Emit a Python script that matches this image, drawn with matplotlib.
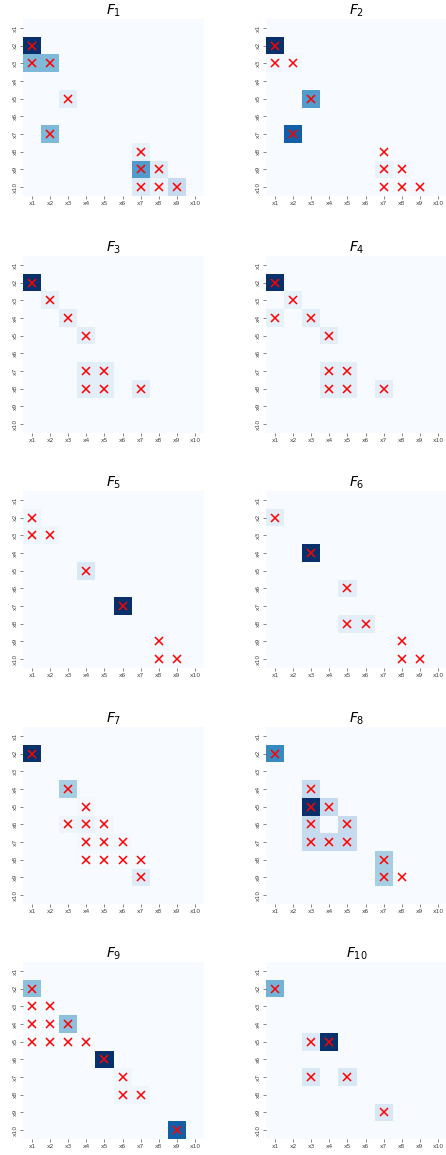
import numpy as np
import matplotlib
matplotlib.use("Agg")
import matplotlib.pyplot as plt

labels = [f"x{i}" for i in range(1, 11)]
titles = [r"$F_{%d}$" % i for i in range(1, 11)]

# (row, col, value) with 1-based variable indices; row = effect, col = cause
F1_vals = [(2, 1, 1.0), (3, 1, 0.45), (3, 2, 0.45), (5, 3, 0.1), (7, 2, 0.45),
           (8, 7, 0.08), (9, 7, 0.58), (9, 8, 0.13), (10, 7, 0.14), (10, 8, 0.06), (10, 9, 0.25)]
F1_marks = [(2, 1), (3, 1), (3, 2), (5, 3), (7, 2), (8, 7), (9, 7), (9, 8), (10, 7), (10, 8), (10, 9)]

F2_vals = [(2, 1, 1.0), (3, 1, 0.02), (3, 2, 0.02), (5, 3, 0.58), (7, 2, 0.82),
           (9, 7, 0.07), (9, 8, 0.02), (10, 9, 0.02)]
F2_marks = [(2, 1), (3, 1), (3, 2), (5, 3), (7, 2), (8, 7), (9, 7), (9, 8), (10, 7), (10, 8), (10, 9)]

F3_vals = [(2, 1, 1.0), (3, 2, 0.08), (4, 3, 0.1), (5, 4, 0.1), (7, 4, 0.1), (7, 5, 0.1),
           (8, 4, 0.1), (8, 5, 0.1), (8, 7, 0.1)]
F3_marks = [(2, 1), (3, 2), (4, 3), (5, 4), (7, 4), (7, 5), (8, 4), (8, 5), (8, 7)]

F4_vals = [(2, 1, 1.0), (3, 2, 0.08), (4, 1, 0.08), (4, 3, 0.1), (5, 4, 0.1), (7, 4, 0.1),
           (7, 5, 0.1), (8, 4, 0.1), (8, 5, 0.1), (8, 7, 0.1)]
F4_marks = [(2, 1), (3, 2), (4, 1), (4, 3), (5, 4), (7, 4), (7, 5), (8, 4), (8, 5), (8, 7)]

F5_vals = [(2, 1, 0.05), (3, 1, 0.04), (3, 2, 0.04), (5, 4, 0.15), (7, 6, 1.0),
           (9, 8, 0.02), (10, 8, 0.01), (10, 9, 0.01)]
F5_marks = [(2, 1), (3, 1), (3, 2), (5, 4), (7, 6), (9, 8), (10, 8), (10, 9)]

F6_vals = [(2, 1, 0.1), (4, 3, 1.0), (6, 5, 0.1), (8, 5, 0.1), (8, 6, 0.1),
           (9, 8, 0.02), (10, 8, 0.01), (10, 9, 0.02)]
F6_marks = [(2, 1), (4, 3), (6, 5), (8, 5), (8, 6), (9, 8), (10, 8), (10, 9)]

F7_vals = [(2, 1, 1.0), (4, 3, 0.35), (5, 4, 0.02), (6, 3, 0.05), (6, 4, 0.07), (6, 5, 0.03),
           (7, 4, 0.02), (7, 5, 0.02), (7, 6, 0.02), (8, 4, 0.01), (8, 5, 0.01), (8, 6, 0.01),
           (8, 7, 0.01), (9, 7, 0.12)]
F7_marks = [(2, 1), (4, 3), (5, 4), (6, 3), (6, 4), (6, 5), (7, 4), (7, 5), (7, 6),
            (8, 4), (8, 5), (8, 6), (8, 7), (9, 7)]

F8_vals = [(2, 1, 0.66), (4, 3, 0.25), (5, 3, 1.0), (5, 4, 0.25), (6, 3, 0.25), (6, 5, 0.25),
           (7, 3, 0.25), (7, 4, 0.25), (7, 5, 0.25), (8, 7, 0.35), (9, 7, 0.35)]
F8_marks = [(2, 1), (4, 3), (5, 3), (5, 4), (6, 3), (6, 5), (7, 3), (7, 4), (7, 5),
            (8, 7), (9, 7), (9, 8)]

F9_vals = [(2, 1, 0.42), (4, 3, 0.42), (6, 5, 1.0), (7, 6, 0.04), (8, 6, 0.04), (8, 7, 0.04),
           (10, 9, 0.82)]
F9_marks = [(2, 1), (3, 1), (3, 2), (4, 1), (4, 2), (4, 3), (5, 1), (5, 2), (5, 3), (5, 4),
            (6, 5), (7, 6), (8, 6), (8, 7), (10, 9)]

F10_vals = [(2, 1, 0.48), (5, 3, 0.13), (5, 4, 1.0), (7, 3, 0.15), (7, 5, 0.15), (9, 7, 0.15)]
F10_marks = [(2, 1), (5, 3), (5, 4), (7, 3), (7, 5), (9, 7)]

panels = [(F1_vals, F1_marks), (F2_vals, F2_marks), (F3_vals, F3_marks), (F4_vals, F4_marks),
          (F5_vals, F5_marks), (F6_vals, F6_marks), (F7_vals, F7_marks), (F8_vals, F8_marks),
          (F9_vals, F9_marks), (F10_vals, F10_marks)]

W, H = 446, 1155
fig = plt.figure(figsize=(W / 100, H / 100), dpi=100)

row_tops = [19, 256, 491, 727, 962]
col_lefts = [23, 266]
aw, ah = 181, 177

n = len(labels)
for k, (vals, marks) in enumerate(panels):
    r, c = divmod(k, 2)
    left = col_lefts[c] / W
    bottom = 1 - (row_tops[r] + ah) / H
    ax = fig.add_axes([left, bottom, aw / W, ah / H])
    M = np.zeros((n, n))
    for (i, j, v) in vals:
        M[i - 1, j - 1] = v
    ax.pcolormesh(np.arange(n + 1), np.arange(n + 1), M, cmap="Blues", vmin=0, vmax=1,
                  edgecolor="none")
    mx = [j - 0.5 for (i, j) in marks]
    my = [i - 0.5 for (i, j) in marks]
    ax.plot(mx, my, linestyle="none", marker="x", color="red", markersize=5.5,
            markeredgewidth=1.1)
    ax.set_xlim(0, n)
    ax.set_ylim(n, 0)
    ax.set_xticks(np.arange(n) + 0.5)
    ax.set_yticks(np.arange(n) + 0.5)
    ax.set_xticklabels(labels, fontsize=4.3, color="#444444")
    ax.set_yticklabels(labels, fontsize=4.3, color="#444444", rotation=90, va="center")
    ax.tick_params(axis="both", length=2, width=0.5, color="#555555", pad=1.5)
    for s in ax.spines.values():
        s.set_visible(False)
    ax.set_title(titles[k], fontsize=10, pad=3)

fig.savefig("out.png", dpi=100)
